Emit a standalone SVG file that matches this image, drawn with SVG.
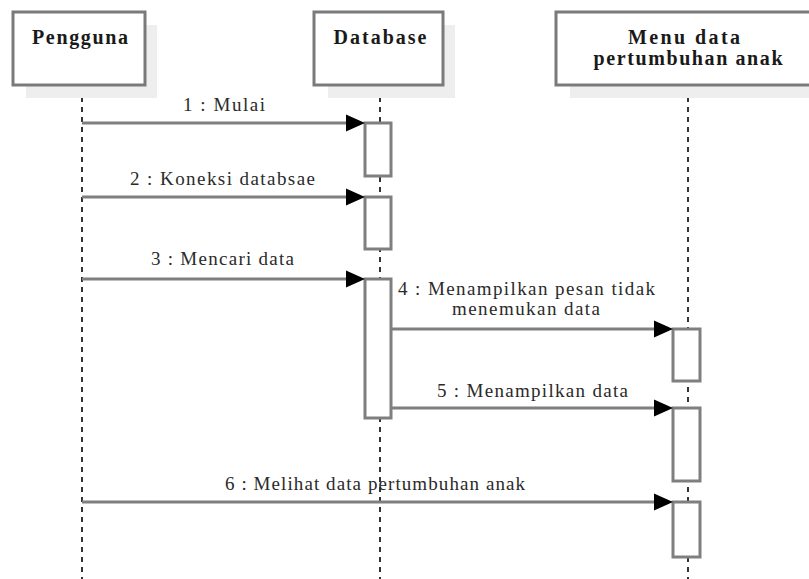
<svg xmlns="http://www.w3.org/2000/svg" width="809" height="579" viewBox="0 0 809 579">
  <defs>
    <style>
      .shadow { fill: #eeeeee; stroke: none; }
      .head { fill: #ffffff; stroke: #7a7a7a; stroke-width: 3; }
      .title { font-size: 20px; font-weight: bold; fill: #1a1a1a; text-anchor: middle; }
      .life { stroke: #000000; stroke-width: 1.6; stroke-dasharray: 5 5; fill: none; }
      .act { fill: #ffffff; stroke: #7f7f7f; stroke-width: 3; }
      .msg { stroke: #7f7f7f; stroke-width: 3; fill: none; }
      .tip { fill: #000000; }
      .lbl { font-size: 19px; fill: #2a2a2a; }
    </style>
  </defs>
  <rect width="809" height="579" fill="#ffffff"/>

  <!-- lifelines -->
  <g id="lifelines">
    <line class="life" x1="82" y1="87" x2="82" y2="579"/>
    <line class="life" x1="380" y1="87" x2="380" y2="579"/>
    <line class="life" x1="688" y1="87" x2="688" y2="579"/>
  </g>

  <g font-family="'Liberation Serif', 'DejaVu Serif', serif">
    <!-- participants -->
    <g id="pengguna">
      <rect class="shadow" x="26" y="25" width="131" height="73"/>
      <rect class="head" x="13" y="12" width="132" height="73"/>
      <text class="title" x="80" y="44" textLength="96" lengthAdjust="spacing">Pengguna</text>
    </g>
    <g id="database">
      <rect class="shadow" x="328" y="25" width="127" height="73"/>
      <rect class="head" x="314" y="12" width="129" height="73"/>
      <text class="title" x="380" y="44" textLength="93" lengthAdjust="spacing">Database</text>
    </g>
    <g id="menu">
      <rect class="shadow" x="570" y="25" width="260" height="73"/>
      <rect class="head" x="556" y="12" width="270" height="73"/>
      <text class="title" x="684" y="44" textLength="112" lengthAdjust="spacing">Menu data</text>
      <text class="title" x="688" y="65" textLength="189" lengthAdjust="spacing">pertumbuhan anak</text>
    </g>

    <!-- activation bars -->
    <g id="activations">
      <rect class="act" x="365" y="123" width="26" height="53"/>
      <rect class="act" x="365" y="197" width="26" height="52"/>
      <rect class="act" x="365" y="279" width="26" height="139"/>
      <rect class="act" x="673" y="329" width="27" height="52"/>
      <rect class="act" x="673" y="408" width="27" height="73"/>
      <rect class="act" x="673" y="502" width="27" height="55"/>
    </g>

    <!-- messages -->
    <g id="connectors">
      <line class="msg" x1="82" y1="123" x2="350" y2="123"/>
      <polygon class="tip" points="346,114.5 365,123 346,131.5"/>
      <line class="msg" x1="82" y1="197" x2="350" y2="197"/>
      <polygon class="tip" points="346,188.5 365,197 346,205.5"/>
      <line class="msg" x1="82" y1="279" x2="350" y2="279"/>
      <polygon class="tip" points="346,270.5 365,279 346,287.5"/>
      <line class="msg" x1="391" y1="329" x2="658" y2="329"/>
      <polygon class="tip" points="654,320.5 673,329 654,337.5"/>
      <line class="msg" x1="391" y1="408" x2="658" y2="408"/>
      <polygon class="tip" points="654,399.5 673,408 654,416.5"/>
      <line class="msg" x1="82" y1="502" x2="658" y2="502"/>
      <polygon class="tip" points="654,493.5 673,502 654,510.5"/>
    </g>

    <!-- message labels -->
    <g id="labels">
      <text class="lbl" x="183" y="111" textLength="82" lengthAdjust="spacing">1 : Mulai</text>
      <text class="lbl" x="130" y="185" textLength="185" lengthAdjust="spacing">2 : Koneksi databsae</text>
      <text class="lbl" x="151" y="265" textLength="143" lengthAdjust="spacing">3 : Mencari data</text>
      <text class="lbl" x="398" y="295" textLength="257" lengthAdjust="spacing">4 : Menampilkan pesan tidak</text>
      <text class="lbl" x="452" y="315" textLength="148" lengthAdjust="spacing">menemukan data</text>
      <text class="lbl" x="437" y="397" textLength="191" lengthAdjust="spacing">5 : Menampilkan data</text>
      <text class="lbl" x="225" y="490" textLength="300" lengthAdjust="spacing">6 : Melihat data pertumbuhan anak</text>
    </g>
  </g>
</svg>
